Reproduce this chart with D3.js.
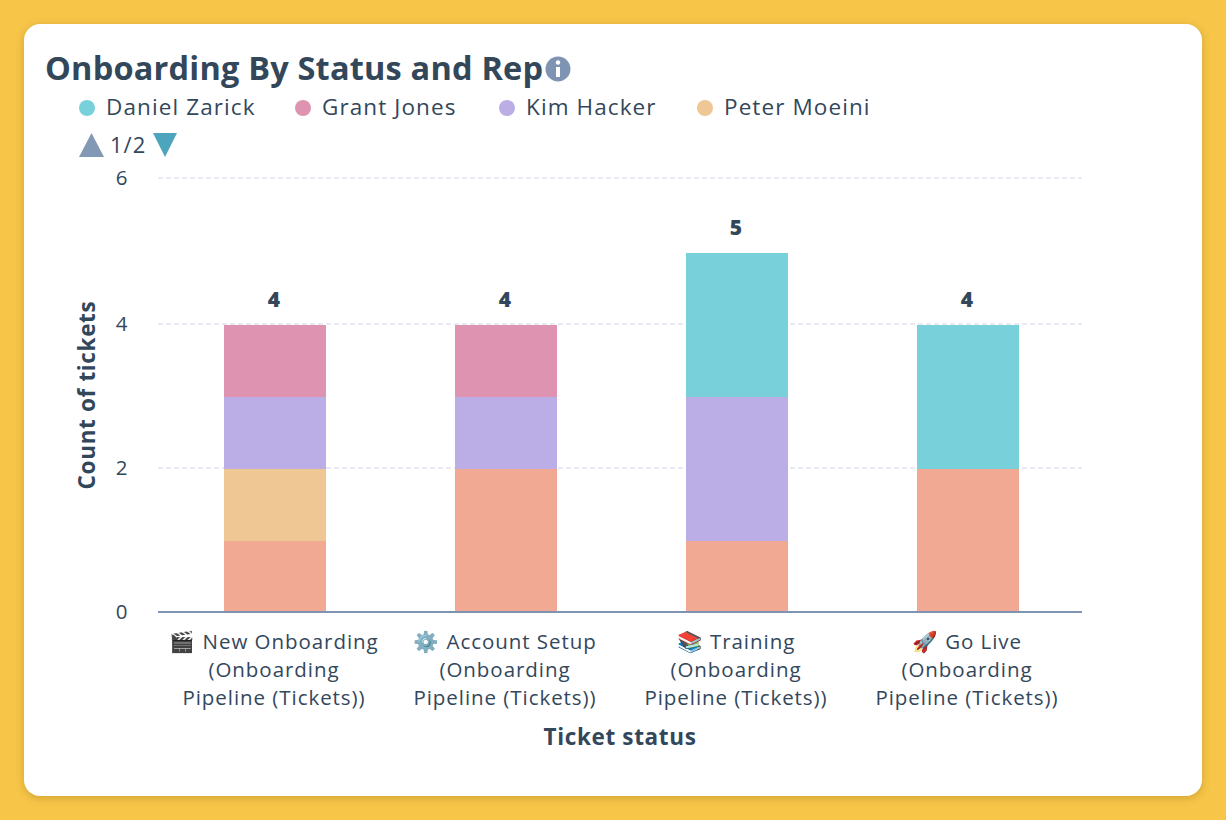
<!DOCTYPE html>
<html lang="en">
<head>
  <meta charset="UTF-8">
  <title>Onboarding By Status and Rep</title>
  <style>
    html, body { margin: 0; width: 1226px; height: 820px; overflow: hidden; background: #f7c548; }
    #card { position: absolute; left: 24px; top: 24px; width: 1178px; height: 772px; background: #fff; border-radius: 16px; box-shadow: 0 2px 8px rgba(120, 90, 0, 0.3); }
    svg { position: absolute; left: 0; top: 0; font-family: "Open Sans", sans-serif; }
    text { fill: #33475b; }
    .grid line { stroke: #dfe3eb; stroke-width: 1.5px; stroke-dasharray: 5 3; }
    .axis-title { font-weight: 700; font-size: 22.5px; letter-spacing: 0.65px; }
    .tick-label { font-size: 20.5px; letter-spacing: 0.95px; }
  </style>
</head>
<body>
  <div id="card"></div>
  <svg id="chart" width="1226" height="820"></svg>
  <script src="https://d3js.org/d3.v7.min.js"></script>
  <script>
    const categories = ["new", "setup", "training", "live"];
    const categoryLines = [
      ["🎬 New Onboarding", "(Onboarding", "Pipeline (Tickets))"],
      ["⚙️ Account Setup", "(Onboarding", "Pipeline (Tickets))"],
      ["📚 Training", "(Onboarding", "Pipeline (Tickets))"],
      ["🚀 Go Live", "(Onboarding", "Pipeline (Tickets))"]
    ];
    // bottom to top. the salmon rep is on page 2 of the legend, name not visible
    const seriesNames = ["Other rep", "Peter Moeini", "Kim Hacker", "Grant Jones", "Daniel Zarick"];
    const otherRep = [1, 2, 1, 2];
    const peterMoeini = [1, 0, 0, 0];
    const kimHacker = [1, 1, 2, 0];
    const grantJones = [1, 1, 0, 0];
    const danielZarick = [0, 0, 2, 2];
    const seriesValues = [otherRep, peterMoeini, kimHacker, grantJones, danielZarick];
    const seriesColors = ["#f2a994", "#eec795", "#bbaee6", "#de94b0", "#78d1da"];
    const legendNames = ["Daniel Zarick", "Grant Jones", "Kim Hacker", "Peter Moeini"];
    const legendColors = ["#78d1da", "#de94b0", "#bbaee6", "#eec795"];
    const legendX = [87, 303, 507, 705];
    const yTicks = [0, 2, 4, 6];

    const svg = d3.select("#chart");
    const x = d3.scaleBand().domain(categories).range([158.5, 1082.5]);
    // the top tick sits 2px higher than even spacing in the reference
    const y = d3.scaleLinear().domain([0, 5, 6]).range([612, 252, 178]);
    const barWidth = 102;

    // title + info icon
    svg.append("text").attr("x", 45).attr("y", 80)
      .style("font-size", "32.5px").style("font-weight", 700).style("letter-spacing", "0.2px")
      .text("Onboarding By Status and Rep");
    svg.append("circle").attr("cx", 558).attr("cy", 69).attr("r", 12.5).attr("fill", "#7f94b3");
    svg.append("circle").attr("cx", 558).attr("cy", 62.5).attr("r", 2.2).attr("fill", "#fff");
    svg.append("rect").attr("x", 556).attr("y", 67).attr("width", 4).attr("height", 10).attr("fill", "#fff");

    // legend
    const legend = svg.append("g").selectAll("g").data(legendNames).enter().append("g")
      .attr("transform", (d, i) => `translate(${legendX[i]},108)`);
    legend.append("circle").attr("r", 8).attr("fill", (d, i) => legendColors[i]);
    legend.append("text").attr("x", 19).attr("y", 6.5).style("font-size", "22.5px").style("letter-spacing", "1.1px").text(d => d);

    // legend pager
    svg.append("path").attr("d", "M79,157L104,157L91.5,133Z").attr("fill", "#8398b5");
    svg.append("text").attr("x", 110).attr("y", 153).style("font-size", "22px").style("letter-spacing", "1px").text("1/2");
    svg.append("path").attr("d", "M153,133L177,133L165,157Z").attr("fill", "#4ca5bd");

    // gridlines
    svg.append("g").attr("class", "grid").selectAll("line").data(yTicks.filter(d => d > 0)).enter().append("line")
      .attr("x1", 158).attr("x2", 1082).attr("y1", d => y(d)).attr("y2", d => y(d));

    // y axis labels
    svg.append("g").selectAll("text").data(yTicks).enter().append("text")
      .attr("class", "tick-label").attr("x", 122).attr("y", d => y(d) + 7)
      .attr("text-anchor", "middle").text(d => d);
    svg.append("text").attr("class", "axis-title").attr("text-anchor", "middle")
      .attr("transform", `translate(95,${y(0) - 217}) rotate(-90)`).text("Count of tickets");

    // stacked bars
    const rows = categories.map((c, i) => {
      const row = { category: c };
      seriesNames.forEach((s, k) => { row[s] = seriesValues[k][i]; });
      return row;
    });
    const stacked = d3.stack().keys(seriesNames)(rows);
    const layer = svg.append("g").selectAll("g").data(stacked).enter().append("g")
      .attr("fill", (d, i) => seriesColors[i]);
    layer.selectAll("rect").data(d => d).enter().append("rect")
      .attr("x", d => Math.round(x(d.data.category) + x.bandwidth() / 2 - barWidth / 2 + 0.5))
      .attr("width", barWidth)
      .attr("y", d => y(d[1]) + 1)
      .attr("height", d => y(d[0]) - y(d[1]));

    // totals above the bars
    const totals = categories.map((c, i) => ({ category: c, total: d3.sum(seriesValues, s => s[i]) }));
    svg.append("g").selectAll("text").data(totals).enter().append("text")
      .attr("x", d => x(d.category) + x.bandwidth() / 2)
      .attr("y", d => y(d.total) - 17)
      .attr("text-anchor", "middle").style("font-size", "21px").style("font-weight", 800)
      .text(d => d.total);

    // baseline
    svg.append("line").attr("x1", 158).attr("x2", 1082).attr("y1", y(0)).attr("y2", y(0))
      .attr("stroke", "#7f94b3").attr("stroke-width", 2);

    // category labels
    const catLabel = svg.append("g").selectAll("text").data(categories).enter().append("text")
      .attr("class", "tick-label").attr("text-anchor", "middle");
    catLabel.selectAll("tspan").data((d, i) => categoryLines[i].map(t => ({ t, c: d }))).enter().append("tspan")
      .attr("x", d => x(d.c) + x.bandwidth() / 2)
      .attr("y", (d, i) => 649 + i * 28)
      .text(d => d.t);
    svg.append("text").attr("class", "axis-title").attr("x", 620).attr("y", 745)
      .attr("text-anchor", "middle").text("Ticket status");
  </script>
</body>
</html>
